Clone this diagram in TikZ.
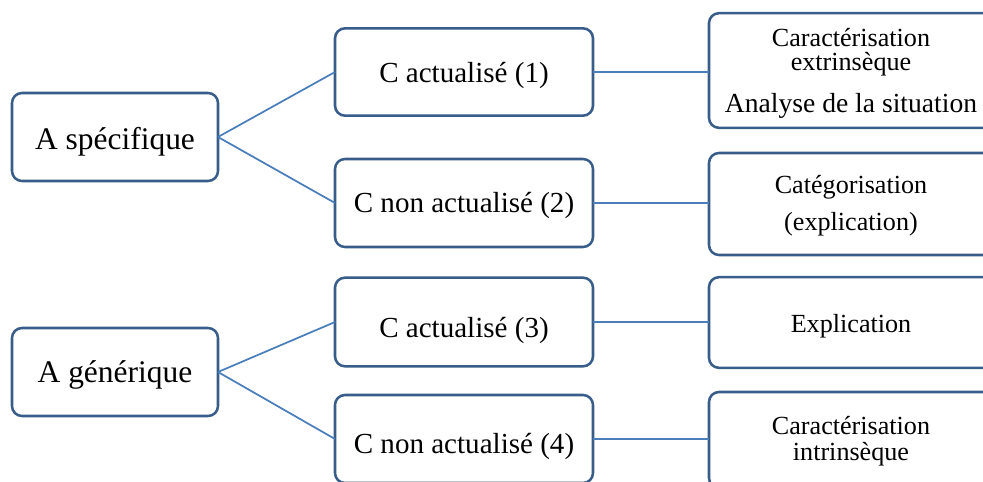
\documentclass[tikz,border=0pt]{standalone}
\usepackage{fontspec}
\setmainfont{Liberation Serif}
\definecolor{boxline}{HTML}{385D8A}
\definecolor{linkline}{HTML}{4A7EBB}
\begin{document}
\begin{tikzpicture}[x=0.75pt,y=-0.75pt,
  box/.style={draw=boxline, line width=1.9pt, rounded corners=7.5pt, fill=white,
    rectangle, inner sep=0pt, outer sep=0pt},
  link/.style={draw=linkline, line width=1.3pt},
  big/.style={anchor=base, inner sep=0pt, font=\fontsize{23.6}{28}\selectfont},
  mid/.style={anchor=base, inner sep=0pt, font=\fontsize{21.8}{26}\selectfont},
  small/.style={anchor=base, inner sep=0pt, font=\fontsize{19.6}{24}\selectfont}]
\useasboundingbox (0,0) rectangle (983,482);

% boxes: left column
\node[box, minimum width=154.5pt, minimum height=66pt] (As) at (115,137) {};
\node[box, minimum width=154.5pt, minimum height=66pt] (Ag) at (115,372) {};
% middle column
\node[box, minimum width=193.5pt, minimum height=65.5pt] (C1) at (464,72) {};
\node[box, minimum width=193.5pt, minimum height=66pt] (C2) at (464,203) {};
\node[box, minimum width=193.5pt, minimum height=66.5pt] (C3) at (464,322) {};
\node[box, minimum width=193.5pt, minimum height=66pt] (C4) at (464,439) {};
% right column
\node[box, minimum width=213pt, minimum height=86pt] (R1) at (851,70.5) {};
\node[box, minimum width=213pt, minimum height=76.5pt] (R2) at (851,204) {};
\node[box, minimum width=213pt, minimum height=68pt] (R3) at (851,322.5) {};
\node[box, minimum width=213pt, minimum height=72pt] (R4) at (851,440) {};

% connectors
\draw[link] (As.east) -- (C1.west);
\draw[link] (As.east) -- (C2.west);
\draw[link] (Ag.east) -- (C3.west);
\draw[link] (Ag.east) -- (C4.west);
\draw[link] (C1.east) -- (C1.east -| R1.west);
\draw[link] (C2.east) -- (C2.east -| R2.west);
\draw[link] (C3.east) -- (C3.east -| R3.west);
\draw[link] (C4.east) -- (C4.east -| R4.west);

% labels
\node[big] (tAs) at (115,149) {A spécifique};
\node[big] (tAg) at (115,382) {A générique};
\node[mid] (tC1) at (464,82) {C actualisé (1)};
\node[mid] (tC2) at (464,212) {C non actualisé (2)};
\node[mid] (tC3) at (464,337) {C actualisé (3)};
\node[mid] (tC4) at (464,453) {C non actualisé (4)};
\node[small] (tR1a) at (851,46) {Caractérisation};
\node[small] (tR1b) at (851,70.5) {extrinsèque};
\node[small, font=\fontsize{20.7}{24}\selectfont] (tR1c) at (851,112) {Analyse de la situation};
\node[small] (tR2a) at (851,193) {Catégorisation};
\node[small] (tR2b) at (851,230) {(explication)};
\node[small] (tR3) at (851,332) {Explication};
\node[small] (tR4a) at (851,434) {Caractérisation};
\node[small] (tR4b) at (851,460) {intrinsèque};
\end{tikzpicture}
\end{document}
